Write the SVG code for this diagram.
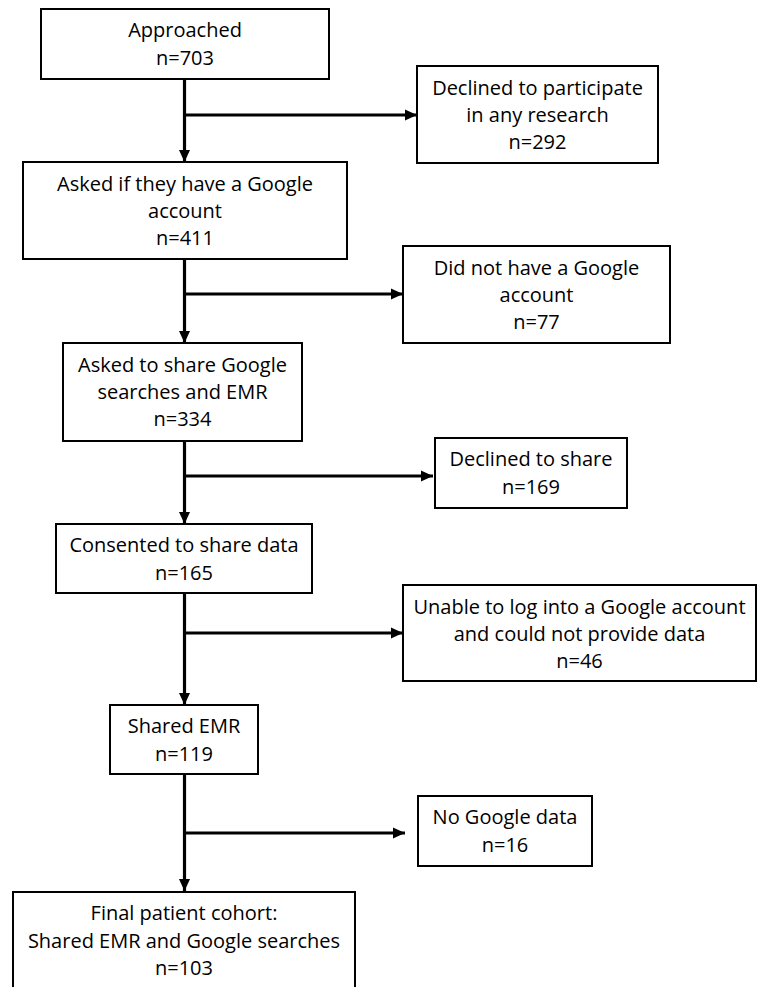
<svg xmlns="http://www.w3.org/2000/svg" width="757" height="987" viewBox="0 0 757 987">
<style>
.box{fill:#fff;stroke:#000;stroke-width:2}
.t{font-family:"Open Sans","Noto Sans",sans-serif;font-size:20px;fill:#000;text-anchor:middle}
.c{stroke:#000;stroke-width:3.2;fill:none}
</style>
<defs>
<marker id="ah" markerUnits="userSpaceOnUse" markerWidth="12" markerHeight="12" viewBox="0 0 12 12" refX="12" refY="6" orient="auto">
<path d="M0,0.5 L12,6 L0,11.5 Z" fill="#000"/>
</marker>
</defs>
<rect width="757" height="987" fill="#fff"/>
<g id="connectors">
<path class="c" d="M184.5,79 V162" marker-end="url(#ah)"/>
<path class="c" d="M184.5,115 H417" marker-end="url(#ah)"/>
<path class="c" d="M184.5,259 V343" marker-end="url(#ah)"/>
<path class="c" d="M184.5,294 H403" marker-end="url(#ah)"/>
<path class="c" d="M184.5,441 V524" marker-end="url(#ah)"/>
<path class="c" d="M184.5,476 H433" marker-end="url(#ah)"/>
<path class="c" d="M184.5,593 V705" marker-end="url(#ah)"/>
<path class="c" d="M184.5,633 H403" marker-end="url(#ah)"/>
<path class="c" d="M184.5,774 V891" marker-end="url(#ah)"/>
<path class="c" d="M184.5,833 H405" marker-end="url(#ah)"/>
</g>
<g id="approached">
<rect class="box" x="41" y="9" width="288" height="70"/>
<text class="t" x="185" y="37">Approached</text>
<text class="t" x="185" y="65">n=703</text>
</g>
<g id="declined-research">
<rect class="box" x="417" y="66" width="241" height="97"/>
<text class="t" x="537.5" y="95">Declined to participate</text>
<text class="t" x="537.5" y="122">in any research</text>
<text class="t" x="537.5" y="149">n=292</text>
</g>
<g id="asked-google">
<rect class="box" x="23" y="162" width="324" height="97"/>
<text class="t" x="185" y="191">Asked if they have a Google</text>
<text class="t" x="185" y="218">account</text>
<text class="t" x="185" y="245">n=411</text>
</g>
<g id="no-google">
<rect class="box" x="403" y="246" width="267" height="97"/>
<text class="t" x="536.5" y="275">Did not have a Google</text>
<text class="t" x="536.5" y="302">account</text>
<text class="t" x="536.5" y="329">n=77</text>
</g>
<g id="asked-share">
<rect class="box" x="63" y="343" width="239" height="98"/>
<text class="t" x="182.5" y="372">Asked to share Google</text>
<text class="t" x="182.5" y="399">searches and EMR</text>
<text class="t" x="182.5" y="426">n=334</text>
</g>
<g id="declined-share">
<rect class="box" x="435" y="438" width="192" height="70"/>
<text class="t" x="531" y="466">Declined to share</text>
<text class="t" x="531" y="494">n=169</text>
</g>
<g id="consented">
<rect class="box" x="56" y="524" width="256" height="69"/>
<text class="t" x="184" y="552">Consented to share data</text>
<text class="t" x="184" y="580">n=165</text>
</g>
<g id="unable">
<rect class="box" x="403" y="585" width="353" height="96"/>
<text class="t" x="579.5" y="614">Unable to log into a Google account</text>
<text class="t" x="579.5" y="641">and could not provide data</text>
<text class="t" x="579.5" y="668">n=46</text>
</g>
<g id="shared-emr">
<rect class="box" x="110" y="705" width="148" height="69"/>
<text class="t" x="184" y="733">Shared EMR</text>
<text class="t" x="184" y="761">n=119</text>
</g>
<g id="no-google-data">
<rect class="box" x="418" y="796" width="174" height="70"/>
<text class="t" x="505" y="824">No Google data</text>
<text class="t" x="505" y="852">n=16</text>
</g>
<g id="final">
<rect class="box" x="13" y="892" width="342" height="100"/>
<text class="t" x="184" y="920">Final patient cohort:</text>
<text class="t" x="184" y="948">Shared EMR and Google searches</text>
<text class="t" x="184" y="975">n=103</text>
</g>
</svg>
